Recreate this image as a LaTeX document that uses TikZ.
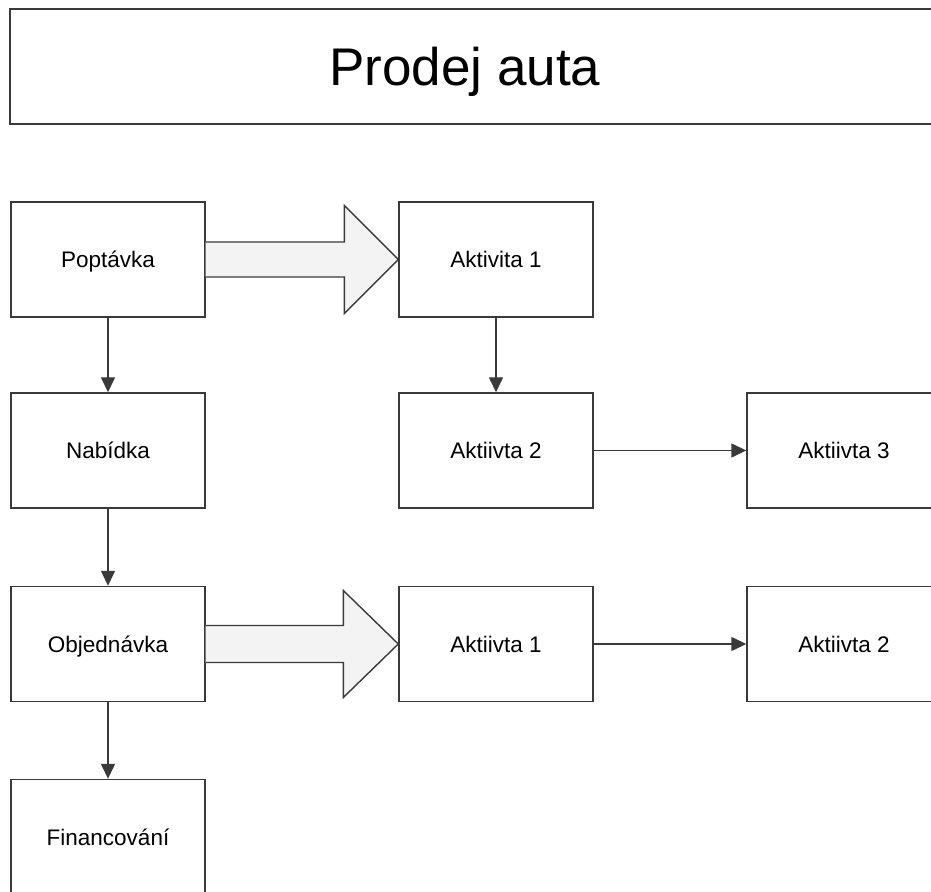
\documentclass[tikz,border=0pt]{standalone}
\usepackage{fontspec}
\setmainfont{Liberation Sans}
\usetikzlibrary{arrows.meta,calc}

\definecolor{ink}{HTML}{3A3A3A}
\definecolor{arrowfill}{HTML}{F3F3F3}

\tikzset{
  box/.style={draw=ink, line width=0.7pt, rectangle, minimum width=97pt,
    minimum height=57.5pt, inner sep=0pt, font=\fontsize{11.25pt}{13pt}\selectfont,
    text height=8.05pt, text depth=0pt},
  titlebox/.style={draw=ink, line width=0.7pt, rectangle, minimum width=465pt,
    minimum height=57.5pt, inner sep=0pt, font=\fontsize{26.5pt}{30pt}\selectfont,
    text height=19pt, text depth=0pt},
  link/.style={draw=ink, line width=0.7pt, -{Triangle[length=7.5pt,width=7pt]}},
  bigarrow/.style={fill=arrowfill, draw=ink, line width=0.7pt, line join=miter}
}

\begin{document}
\begin{tikzpicture}[x=0.5pt,y=-0.5pt]
  \useasboundingbox (0,0) rectangle (931,892);
  \clip (0,0) rectangle (931,892);

  % heading
  \node[titlebox] (title) at (475,66.5) {\hspace*{-10pt}Prodej auta};

  % left column: main process
  \node[box] (pop) at (108,259.5) {Poptávka};
  \node[box] (nab) at (108,450.5) {Nabídka};
  \node[box] (obj) at (108,644)   {Objednávka};
  \node[box] (fin) at (108,837)   {Financování};

  % middle column
  \node[box] (act1) at (496,259.5) {Aktivita 1};
  \node[box] (act2) at (496,450.5) {Aktiivta 2};
  \node[box] (oact1) at (496,644)  {Aktiivta 1};

  % right column
  \node[box] (act3) at (844,450.5) {Aktiivta 3};
  \node[box] (oact2) at (844,644)  {Aktiivta 2};

  % thin connectors
  \draw[link] (pop.south) -- (nab.north);
  \draw[link] (nab.south) -- (obj.north);
  \draw[link] (obj.south) -- (fin.north);
  \draw[link] (act1.south) -- (act2.north);
  \draw[link] (act2.east) -- (act3.west);
  \draw[link] (oact1.east) -- (oact2.west);

  % block arrows into the activity chains
  \filldraw[bigarrow] ($(pop.east)+(0,-17.5)$) -- ($(act1.west)+(-54,-17.5)$)
    -- ($(act1.west)+(-54,-54)$) -- (act1.west) -- ($(act1.west)+(-54,54)$)
    -- ($(act1.west)+(-54,17.5)$) -- ($(pop.east)+(0,17.5)$);
  \filldraw[bigarrow] ($(obj.east)+(0,-18.5)$) -- ($(oact1.west)+(-55,-18.5)$)
    -- ($(oact1.west)+(-55,-53.5)$) -- (oact1.west) -- ($(oact1.west)+(-55,53.5)$)
    -- ($(oact1.west)+(-55,18.5)$) -- ($(obj.east)+(0,18.5)$);
\end{tikzpicture}
\end{document}
